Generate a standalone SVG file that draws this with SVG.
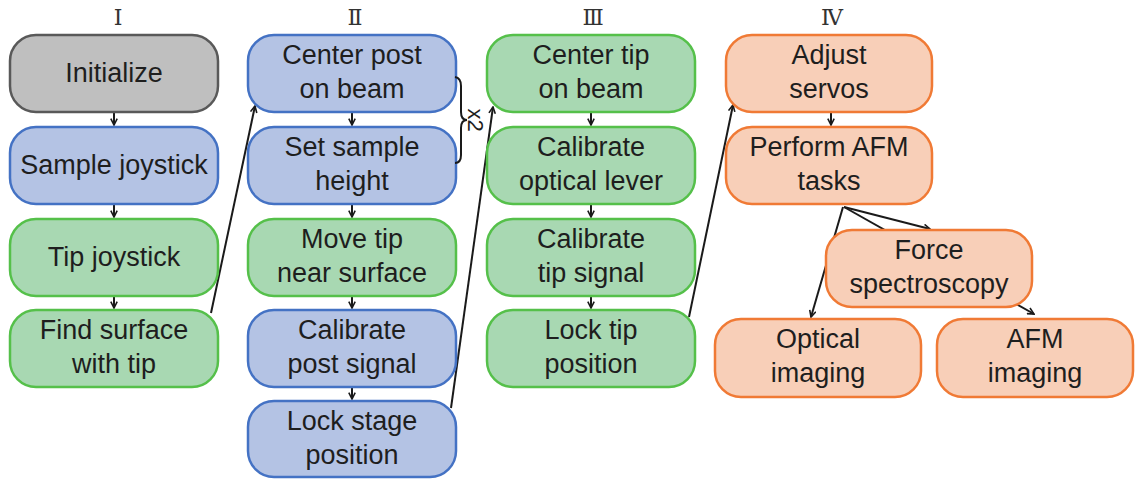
<svg xmlns="http://www.w3.org/2000/svg" width="1135" height="479" viewBox="0 0 1135 479">
<style>
.box{stroke-width:2.5}
.gray{fill:#bfbfbf;stroke:#595959}
.blue{fill:#b4c3e4;stroke:#4472c4}
.green{fill:#a8d8b2;stroke:#55c04a}
.orange{fill:#f8cfb8;stroke:#f07a35}
.t{font-family:"Liberation Sans",Arial,sans-serif;font-size:27px;fill:#1e1e1e;text-anchor:middle}
.h{font-family:"DejaVu Serif","Noto Sans CJK SC",serif;font-size:22px;fill:#333;text-anchor:middle}
.c{stroke:#1a1a1a;stroke-width:2;fill:none}
</style>
<defs>
<marker id="ah" viewBox="0 0 10 10" refX="9" refY="5" markerWidth="8" markerHeight="8" markerUnits="userSpaceOnUse" orient="auto">
<path d="M1,1 L9,5 L1,9" fill="none" stroke="#1a1a1a" stroke-width="2"/>
</marker>
</defs>
<rect width="1135" height="479" fill="#ffffff"/>
<g id="headers">
<text class="h" x="118" y="25">Ⅰ</text>
<text class="h" x="355" y="25">Ⅱ</text>
<text class="h" x="593" y="25">Ⅲ</text>
<text class="h" x="832" y="25">Ⅳ</text>
</g>
<g id="connectors">
<line class="c" x1="114" y1="113" x2="114" y2="125" marker-end="url(#ah)"/>
<line class="c" x1="114" y1="205" x2="114" y2="217" marker-end="url(#ah)"/>
<line class="c" x1="114" y1="297" x2="114" y2="308" marker-end="url(#ah)"/>
<line class="c" x1="352" y1="113" x2="352" y2="125" marker-end="url(#ah)"/>
<line class="c" x1="352" y1="205" x2="352" y2="217" marker-end="url(#ah)"/>
<line class="c" x1="352" y1="297" x2="352" y2="308" marker-end="url(#ah)"/>
<line class="c" x1="352" y1="388" x2="352" y2="399" marker-end="url(#ah)"/>
<line class="c" x1="591" y1="113" x2="591" y2="125" marker-end="url(#ah)"/>
<line class="c" x1="591" y1="205" x2="591" y2="217" marker-end="url(#ah)"/>
<line class="c" x1="591" y1="297" x2="591" y2="308" marker-end="url(#ah)"/>
<line class="c" x1="831" y1="113" x2="831" y2="125" marker-end="url(#ah)"/>
<line class="c" x1="211" y1="313" x2="255" y2="106" marker-end="url(#ah)"/>
<line class="c" x1="451" y1="408" x2="493" y2="107" marker-end="url(#ah)"/>
<line class="c" x1="689" y1="317" x2="733" y2="105" marker-end="url(#ah)"/>
<line class="c" x1="844" y1="207" x2="930" y2="229" marker-end="url(#ah)"/>
<line class="c" x1="844" y1="207" x2="1034" y2="314" marker-end="url(#ah)"/>
<line class="c" x1="843" y1="207" x2="811" y2="317" marker-end="url(#ah)"/>
</g>
<g id="n1"><rect class="box gray" x="10" y="35" width="208" height="77" rx="26"/><text class="t" x="114" y="82">Initialize</text></g>
<g id="n2"><rect class="box blue" x="10" y="127" width="208" height="77" rx="26"/><text class="t" x="114" y="174">Sample joystick</text></g>
<g id="n3"><rect class="box green" x="10" y="219" width="208" height="77" rx="26"/><text class="t" x="114" y="266">Tip joystick</text></g>
<g id="n4"><rect class="box green" x="10" y="310" width="208" height="77" rx="26"/><text class="t" x="114" y="339">Find surface</text><text class="t" x="114" y="373">with tip</text></g>
<g id="n5"><rect class="box blue" x="248" y="35" width="208" height="77" rx="26"/><text class="t" x="352" y="64">Center post</text><text class="t" x="352" y="98">on beam</text></g>
<g id="n6"><rect class="box blue" x="248" y="127" width="208" height="77" rx="26"/><text class="t" x="352" y="156">Set sample</text><text class="t" x="352" y="190">height</text></g>
<g id="n7"><rect class="box green" x="248" y="219" width="208" height="77" rx="26"/><text class="t" x="352" y="248">Move tip</text><text class="t" x="352" y="282">near surface</text></g>
<g id="n8"><rect class="box blue" x="248" y="310" width="208" height="77" rx="26"/><text class="t" x="352" y="339">Calibrate</text><text class="t" x="352" y="373">post signal</text></g>
<g id="n9"><rect class="box blue" x="248" y="401" width="208" height="76" rx="26"/><text class="t" x="352" y="430">Lock stage</text><text class="t" x="352" y="464">position</text></g>
<g id="bracket">
<path class="c" d="M455,77 Q461,78 461,86 L461,112 Q461,120 467,120 Q461,120 461,128 L461,155 Q461,163 455,163" stroke-width="1.8"/>
<text font-family="Liberation Sans,Arial,sans-serif" font-size="22" fill="#1e1e1e" text-anchor="middle" transform="translate(468,120) rotate(90)">x2</text>
</g>
<g id="n10"><rect class="box green" x="487" y="35" width="208" height="77" rx="26"/><text class="t" x="591" y="64">Center tip</text><text class="t" x="591" y="98">on beam</text></g>
<g id="n11"><rect class="box green" x="487" y="127" width="208" height="77" rx="26"/><text class="t" x="591" y="156">Calibrate</text><text class="t" x="591" y="190">optical lever</text></g>
<g id="n12"><rect class="box green" x="487" y="219" width="208" height="77" rx="26"/><text class="t" x="591" y="248">Calibrate</text><text class="t" x="591" y="282">tip signal</text></g>
<g id="n13"><rect class="box green" x="487" y="310" width="208" height="77" rx="26"/><text class="t" x="591" y="339">Lock tip</text><text class="t" x="591" y="373">position</text></g>
<g id="n14"><rect class="box orange" x="726" y="35" width="206" height="77" rx="26"/><text class="t" x="829" y="64">Adjust</text><text class="t" x="829" y="98">servos</text></g>
<g id="n15"><rect class="box orange" x="726" y="127" width="206" height="77" rx="26"/><text class="t" x="829" y="156">Perform AFM</text><text class="t" x="829" y="190">tasks</text></g>
<g id="n16"><rect class="box orange" x="826" y="230" width="206" height="77" rx="26"/><text class="t" x="929" y="259">Force</text><text class="t" x="929" y="293">spectroscopy</text></g>
<g id="n17"><rect class="box orange" x="715" y="319" width="206" height="78" rx="26"/><text class="t" x="818" y="348">Optical</text><text class="t" x="818" y="382">imaging</text></g>
<g id="n18"><rect class="box orange" x="937" y="319" width="196" height="78" rx="26"/><text class="t" x="1035" y="348">AFM</text><text class="t" x="1035" y="382">imaging</text></g>
</svg>
